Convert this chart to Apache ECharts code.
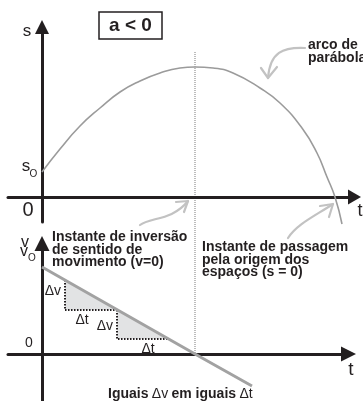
<!DOCTYPE html>
<html>
<head>
<meta charset="utf-8">
<script src="https://cdn.jsdelivr.net/npm/echarts@6/dist/echarts.min.js"></script>
<style>
  html, body { margin: 0; padding: 0; background: #fff; }
  #chart { width: 363px; height: 401px; }
</style>
</head>
<body>
<div id="chart"></div>
<script>
// s(t): arc of parabola (top panel)
const posTimes  = [0, 18, 38, 58, 78, 98, 118, 138, 153, 171, 191, 218, 238, 260, 275, 285, 293, 300];
const posValues = [25, 48, 71, 89, 105, 116, 124, 129, 130, 129, 124, 109, 94, 69, 44, 20, 0, -27];
// instant where the motion reverses (v = 0) and where s = 0
const turnTime = 153;
const rootTime = 293;
const guideTop = 145;
// v(t): straight line (bottom panel)
const velTimes  = [0, 153, 210];
const velValues = [87, 0, -32];
// equal steps: Δt along t, Δv along v
const stepTimes = [23, 75, 127];
const stepVels  = [74, 44, 15];

const INK = '#231f20';
const FONT = '"Liberation Sans", Arial, sans-serif';

const posData = posTimes.map((t, i) => [t, posValues[i]]);
const velData = velTimes.map((t, i) => [t, velValues[i]]);
const stepData = [];
for (let i = 0; i < stepTimes.length - 1; i++) {
  stepData.push([stepTimes[i], stepTimes[i + 1], stepVels[i], stepVels[i + 1]]);
}
// small nudges for the Δv / Δt captions of each step
const dvNudge = [-4, 2];
const dtNudge = [-9, 5];

function axisX(max, arrow) {
  return {
    type: 'value', min: -34, max: max,
    axisLine: { show: true, onZero: true, symbol: ['none', 'triangle'], symbolSize: arrow,
      lineStyle: { color: INK, width: 3 } },
    axisTick: { show: false }, axisLabel: { show: false }, splitLine: { show: false }
  };
}
function axisY(min, max, arrow) {
  return {
    type: 'value', min: min, max: max,
    axisLine: { show: true, onZero: true, symbol: ['none', 'triangle'], symbolSize: arrow,
      lineStyle: { color: INK, width: 3 } },
    axisTick: { show: false }, axisLabel: { show: false }, splitLine: { show: false }
  };
}

const option = {
  backgroundColor: '#fff',
  animation: false,
  grid: [
    { left: 8, right: 8.5, top: 27, bottom: 179 },
    { left: 8, right: 14.5, top: 243.5, bottom: 0 }
  ],
  xAxis: [
    Object.assign(axisX(312.5, [15, 13]), { gridIndex: 0 }),
    Object.assign(axisX(306.5, [15, 15]), { gridIndex: 1 })
  ],
  yAxis: [
    Object.assign(axisY(-25, 170, [14, 14]), { gridIndex: 0 }),
    Object.assign(axisY(-47, 110.5, [15, 15]), { gridIndex: 1 })
  ],
  series: [
    {
      type: 'line', xAxisIndex: 0, yAxisIndex: 0, data: posData,
      smooth: true, showSymbol: false, clip: false,
      lineStyle: { color: '#9b9b9b', width: 1.6 }
    },
    {
      type: 'custom', xAxisIndex: 1, yAxisIndex: 1, data: stepData, z: 1,
      renderItem: function (params, api) {
        const i = params.dataIndex;
        const a = api.coord([api.value(0), api.value(2)]);
        const b = api.coord([api.value(0), api.value(3)]);
        const c = api.coord([api.value(1), api.value(3)]);
        const lbl = { font: '14px ' + FONT, fill: INK, verticalAlign: 'middle' };
        return {
          type: 'group',
          children: [
            { type: 'polygon', shape: { points: [a, b, c] }, style: { fill: '#e2e3e4' } },
            { type: 'polyline', shape: { points: [a, b, c] },
              style: { stroke: INK, lineWidth: 2, lineDash: [1.5, 1.5], fill: null } },
            { type: 'text', style: Object.assign({ text: 'Δv', x: b[0] - 4, y: (a[1] + b[1]) / 2 + dvNudge[i], align: 'right' }, lbl) },
            { type: 'text', style: Object.assign({ text: 'Δt', x: (b[0] + c[0]) / 2 + dtNudge[i], y: b[1] + 10, align: 'center' }, lbl) }
          ]
        };
      }
    },
    {
      type: 'line', xAxisIndex: 1, yAxisIndex: 1, data: velData, z: 3,
      showSymbol: false, clip: false,
      lineStyle: { color: '#a2a2a2', width: 3 }
    }
  ]
};

const chart = echarts.init(document.getElementById('chart'), null, { renderer: 'canvas' });
chart.setOption(option);

// vertical guide through the turning instant, spanning both panels
const gTop = chart.convertToPixel({ gridIndex: 0 }, [turnTime, guideTop]);
const gBot = chart.convertToPixel({ gridIndex: 1 }, [turnTime, 0]);
const turnPx = chart.convertToPixel({ gridIndex: 0 }, [turnTime, 0]);
const rootPx = chart.convertToPixel({ gridIndex: 0 }, [rootTime, 0]);

function txt(x, y, text, font, extra) {
  return { type: 'text', x: x, y: y, z: 10,
    style: Object.assign({ text: text, font: font, fill: INK, align: 'center', verticalAlign: 'middle' }, extra || {}) };
}
function pointer(x1, y1, c1x, c1y, c2x, c2y, x2, y2, h1, h2) {
  const st = { stroke: '#c2c2c2', lineWidth: 2.2, fill: null, lineCap: 'round', lineJoin: 'round' };
  return [
    { type: 'bezierCurve', z: 5, shape: { x1: x1, y1: y1, cpx1: c1x, cpy1: c1y, cpx2: c2x, cpy2: c2y, x2: x2, y2: y2 }, style: st },
    { type: 'polyline', z: 5, shape: { points: [h1, [x2, y2], h2] }, style: st }
  ];
}

const bold = 'bold 14px ' + FONT;
const tx = turnPx[0], ty = turnPx[1];
const rx = rootPx[0], ry = rootPx[1];

chart.setOption({
  graphic: [
    { type: 'line', z: -1,
      shape: { x1: gTop[0], y1: gTop[1], x2: gBot[0], y2: gBot[1] },
      style: { stroke: '#bdbdbd', lineWidth: 2, lineDash: [1, 1] } },

    // "a < 0" box
    { type: 'rect', z: 10, shape: { x: 99, y: 12, width: 63, height: 27 },
      style: { fill: '#fff', stroke: INK, lineWidth: 1.5 } },
    txt(130.5, 26, 'a < 0', 'bold 19px ' + FONT),

    // axis letters
    txt(27, 31, 's', '17px ' + FONT),
    txt(26, 166, 's', '17px ' + FONT),
    txt(33.5, 174, 'O', '10px ' + FONT),
    txt(28, 210, '0', '20px ' + FONT),
    txt(360, 211, 't', '18px ' + FONT),
    txt(25, 243, 'v', '16px ' + FONT),
    txt(24, 252, 'v', '16px ' + FONT),
    txt(32, 258, 'O', '10px ' + FONT),
    txt(29, 343, '0', '14px ' + FONT),
    txt(351, 370, 't', '19px ' + FONT),

    // annotations
    txt(308, 39, 'arco de\nparábola', bold, { align: 'left', verticalAlign: 'top', lineHeight: 12.5 }),
    txt(52, 231, 'Instante de inversão\nde sentido de\nmovimento (v=0)', bold, { align: 'left', verticalAlign: 'top', lineHeight: 12.5 }),
    txt(202, 241, 'Instante de passagem\npela origem dos\nespaços (s = 0)', bold, { align: 'left', verticalAlign: 'top', lineHeight: 12.5 }),
    { type: 'text', x: 108, y: 387, z: 10,
      style: {
        text: '{b|Iguais} {n|Δv} {b|em iguais} {n|Δt}',
        verticalAlign: 'top', align: 'left',
        rich: {
          b: { font: bold, fill: INK },
          n: { font: '14px ' + FONT, fill: INK }
        }
      } }
  ]
    .concat(pointer(305, 48, 283, 47, 270, 52, 268, 78, [261, 68], [277, 67]))
    .concat(pointer(140, 225, 150, 217, 172, 221, tx - 7, ty + 4, [tx - 19, ty + 5], [tx - 11, ty + 15]))
    .concat(pointer(288, 238, 297, 224, 315, 216, rx - 2, ry + 7, [rx - 15, ry + 9], [rx - 6, ry + 20]))
});
</script>
</body>
</html>
